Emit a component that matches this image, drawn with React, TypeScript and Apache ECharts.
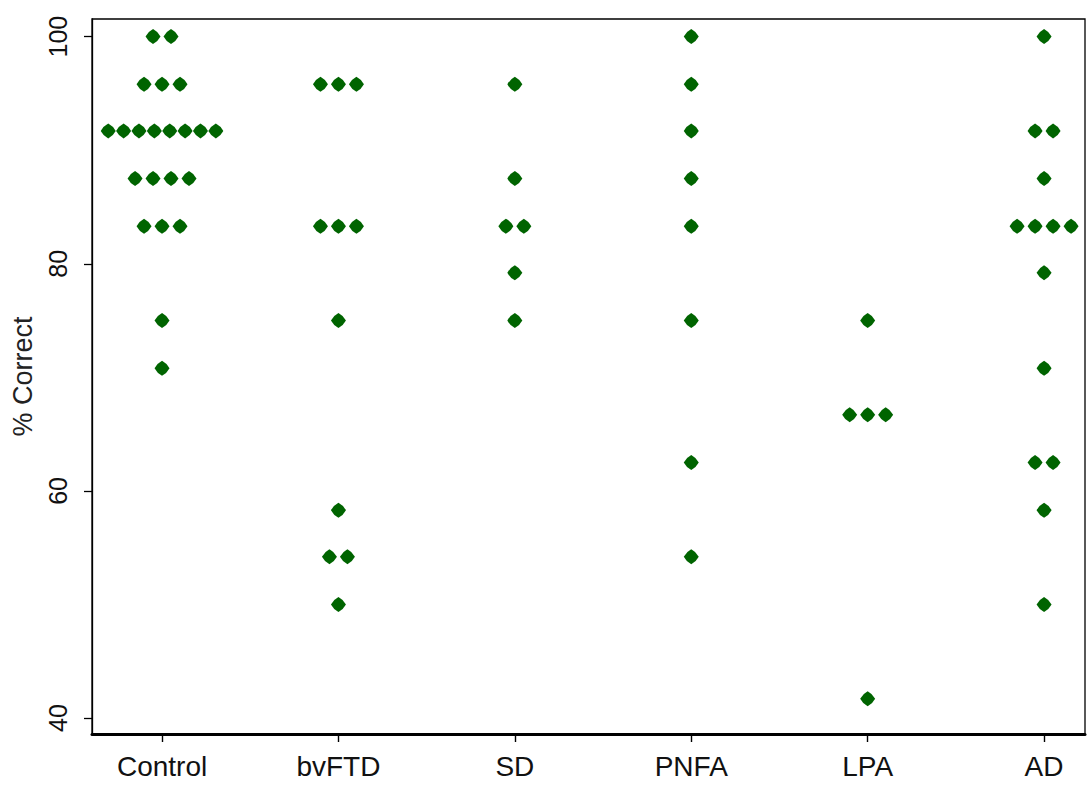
import React, { useEffect, useRef } from "react";
import * as echarts from "echarts";

const categories = ["Control", "bvFTD", "SD", "PNFA", "LPA", "AD"];

const controlScores = [
  100, 100,
  95.8, 95.8, 95.8,
  91.7, 91.7, 91.7, 91.7, 91.7, 91.7, 91.7, 91.7,
  87.5, 87.5, 87.5, 87.5,
  83.3, 83.3, 83.3,
  75, 70.8,
];
const bvftdScores = [95.8, 95.8, 95.8, 83.3, 83.3, 83.3, 75, 58.3, 54.2, 54.2, 50];
const sdScores = [95.8, 87.5, 83.3, 83.3, 79.2, 75];
const pnfaScores = [100, 95.8, 91.7, 87.5, 83.3, 75, 62.5, 54.2];
const lpaScores = [75, 66.7, 66.7, 66.7, 41.7];
const adScores = [100, 91.7, 91.7, 87.5, 83.3, 83.3, 83.3, 83.3, 79.2, 70.8, 62.5, 62.5, 58.3, 50];

const groups = [controlScores, bvftdScores, sdScores, pnfaScores, lpaScores, adScores];

const yTicks = [40, 60, 80, 100];

const MARKER_PATH =
  "path://M5,0 Q8.3,1.7 10,5 Q8.3,8.3 5,10 Q1.7,8.3 0,5 Q1.7,1.7 5,0 Z";

// beeswarm layout: identical values are spread horizontally around the group centre
function swarm(values: number[], centre: number): number[][] {
  const counts = new Map<number, number>();
  values.forEach((v) => counts.set(v, (counts.get(v) || 0) + 1));
  const out: number[][] = [];
  const step = 0.102;
  const maxSpan = 0.61;
  counts.forEach((n, v) => {
    const s = n > 1 ? Math.min(step, maxSpan / (n - 1)) : 0;
    for (let k = 0; k < n; k++) {
      out.push([centre + (k - (n - 1) / 2) * s, v]);
    }
  });
  return out;
}

export default function App() {
  const ref = useRef<HTMLDivElement>(null);
  useEffect(() => {
    if (!ref.current) return;
    const chart = echarts.init(ref.current, undefined, { renderer: "svg" });
    const data: number[][] = [];
    groups.forEach((g, i) => swarm(g, i + 1).forEach((p) => data.push(p)));
    chart.setOption({
      animation: false,
      backgroundColor: "#ffffff",
      grid: {
        left: 92,
        right: 2,
        top: 19,
        bottom: 51,
        show: true,
        borderColor: "#000",
        borderWidth: 1.3,
      },
      xAxis: {
        type: "value",
        min: 0.603,
        max: 6.232,
        splitLine: { show: false },
        axisLine: { show: true, onZero: false, lineStyle: { color: "#000", width: 3 } },
        axisTick: {
          show: true,
          length: 8,
          customValues: [1, 2, 3, 4, 5, 6],
          lineStyle: { color: "#000", width: 1.4 },
        },
        axisLabel: {
          customValues: [1, 2, 3, 4, 5, 6],
          formatter: (v: number) => categories[Math.round(v) - 1] || "",
          fontFamily: "Liberation Sans, Arial, sans-serif",
          fontSize: 28,
          color: "#111",
          margin: 18,
        },
      },
      yAxis: {
        type: "value",
        min: 38.6,
        max: 101.55,
        name: "% Correct",
        nameLocation: "middle",
        nameGap: 56,
        nameTextStyle: {
          fontFamily: "Liberation Sans, Arial, sans-serif",
          fontSize: 27,
          color: "#222",
        },
        splitLine: { show: false },
        axisLine: { show: true, lineStyle: { color: "#000", width: 1.3 } },
        axisTick: {
          show: true,
          length: 8,
          customValues: yTicks,
          lineStyle: { color: "#000", width: 1.3 },
        },
        axisLabel: {
          customValues: yTicks,
          rotate: 90,
          fontFamily: "Liberation Sans, Arial, sans-serif",
          fontSize: 25,
          color: "#111",
          margin: 22,
        },
      },
      series: [
        {
          type: "scatter",
          data,
          symbol: MARKER_PATH,
          symbolSize: 15,
          itemStyle: { color: "#006400", opacity: 1 },
        },
      ],
    });
    return () => chart.dispose();
  }, []);
  return (
    <div
      ref={ref}
      style={{ position: "fixed", left: 0, top: 0, width: 1087, height: 785 }}
    />
  );
}
